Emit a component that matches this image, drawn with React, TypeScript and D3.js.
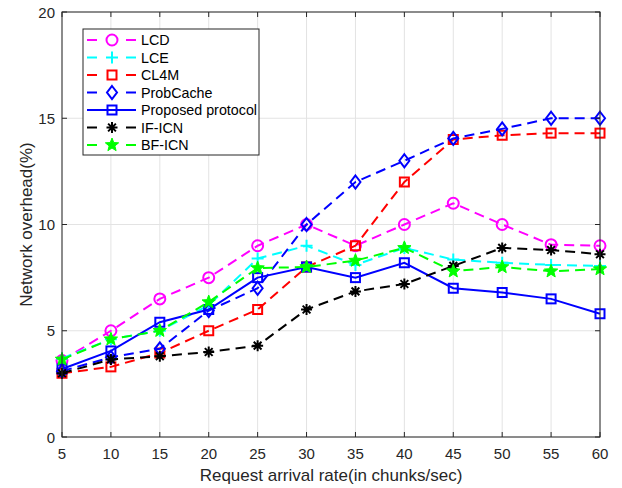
import { scaleLinear, line } from "d3";

const width = 622;
const height = 488;
const margin = { left: 62, right: 22, top: 12, bottom: 51 };

const rates = [5, 10, 15, 20, 25, 30, 35, 40, 45, 50, 55, 60];
const yTicks = [0, 5, 10, 15, 20];

const lcd = [3.6, 5.0, 6.5, 7.5, 9.0, 10.0, 9.0, 10.0, 11.0, 10.0, 9.05, 9.0];
const lce = [3.7, 4.6, 5.0, 6.2, 8.4, 9.0, 8.1, 8.9, 8.35, 8.2, 8.1, 8.05];
const cl4m = [3.0, 3.3, 3.95, 5.0, 6.0, 8.0, 9.0, 12.0, 14.0, 14.2, 14.3, 14.3];
const probCache = [3.1, 3.75, 4.15, 5.95, 7.0, 10.0, 12.0, 13.0, 14.05, 14.5, 15.0, 15.0];
const proposed = [3.2, 4.05, 5.4, 6.0, 7.5, 8.0, 7.5, 8.2, 7.0, 6.8, 6.5, 5.8];
const ifIcn = [3.0, 3.65, 3.8, 4.0, 4.3, 6.0, 6.85, 7.2, 8.05, 8.9, 8.8, 8.6];
const bfIcn = [3.65, 4.6, 5.0, 6.35, 7.95, 8.0, 8.3, 8.9, 7.8, 8.0, 7.8, 7.9];

const seriesNames = ["LCD", "LCE", "CL4M", "ProbCache", "Proposed protocol", "IF-ICN", "BF-ICN"];
const seriesValues = [lcd, lce, cl4m, probCache, proposed, ifIcn, bfIcn];
const seriesColors = ["#ff00ff", "#00ffff", "#ff0000", "#0000ff", "#0000ff", "#000000", "#00ff00"];
const seriesMarkers = ["circle", "plus", "square", "diamond", "square", "asterisk", "star"];
const seriesDashed = [true, true, true, true, false, true, true];

const font = "'Liberation Sans', Arial, sans-serif";
const axisColor = "#262626";

function Marker({ type, x, y, color }: { type: string; x: number; y: number; color: string }) {
  const sw = 2;
  if (type === "circle")
    return <circle cx={x} cy={y} r={5.5} fill="none" stroke={color} strokeWidth={sw} />;
  if (type === "square")
    return <rect x={x - 4.5} y={y - 4.5} width={9} height={9} fill="none" stroke={color} strokeWidth={sw} />;
  if (type === "diamond")
    return (
      <path d={`M${x},${y - 6.5}L${x + 5},${y}L${x},${y + 6.5}L${x - 5},${y}Z`} fill="none" stroke={color} strokeWidth={sw} />
    );
  if (type === "plus")
    return <path d={`M${x - 6},${y}H${x + 6}M${x},${y - 6}V${y + 6}`} stroke={color} strokeWidth={sw} />;
  if (type === "asterisk") {
    const r = 5.5;
    const d = [0, 45, 90, 135]
      .map((a) => {
        const t = (a * Math.PI) / 180;
        return `M${x - r * Math.cos(t)},${y - r * Math.sin(t)}L${x + r * Math.cos(t)},${y + r * Math.sin(t)}`;
      })
      .join("");
    return <path d={d} stroke={color} strokeWidth={sw} />;
  }
  // star (pentagram)
  const pts: string[] = [];
  for (let i = 0; i < 10; i++) {
    const r = i % 2 === 0 ? 7 : 3;
    const t = (-90 + i * 36) * (Math.PI / 180);
    pts.push(`${x + r * Math.cos(t)},${y + r * Math.sin(t)}`);
  }
  return <polygon points={pts.join(" ")} fill={color} stroke={color} strokeWidth={1} />;
}

export default function App() {
  const x = scaleLinear()
    .domain([5, 60])
    .range([margin.left, width - margin.right]);
  const y = scaleLinear()
    .domain([0, 20])
    .range([height - margin.bottom, margin.top]);

  const x0 = margin.left;
  const x1 = width - margin.right;
  const y0 = height - margin.bottom;
  const y1 = margin.top;

  const lineGen = line<number>()
    .x((_, i) => x(rates[i]))
    .y((d) => y(d));

  const legX = 83;
  const legY = 29;
  const legW = 176;
  const legH = 126;
  const legRow = 17.5;

  return (
    <svg width={width} height={height} style={{ position: "absolute", left: 0, top: 0, background: "#fff" }}>
      <rect x={0} y={0} width={width} height={height} fill="#fff" />
      {/* grid */}
      {rates.map((r) => (
        <line key={"gx" + r} x1={x(r)} x2={x(r)} y1={y0} y2={y1} stroke="#e3e3e3" strokeWidth={1} />
      ))}
      {yTicks.map((t) => (
        <line key={"gy" + t} x1={x0} x2={x1} y1={y(t)} y2={y(t)} stroke="#e3e3e3" strokeWidth={1} />
      ))}

      {/* series */}
      {seriesValues.map((vals, si) => (
        <g key={seriesNames[si]}>
          <path
            d={lineGen(vals) || ""}
            fill="none"
            stroke={seriesColors[si]}
            strokeWidth={2}
            strokeDasharray={seriesDashed[si] ? "10 6" : undefined}
          />
          {vals.map((v, i) => (
            <Marker key={i} type={seriesMarkers[si]} x={x(rates[i])} y={y(v)} color={seriesColors[si]} />
          ))}
        </g>
      ))}

      {/* axes box */}
      <rect x={x0} y={y1} width={x1 - x0} height={y0 - y1} fill="none" stroke={axisColor} strokeWidth={1} />
      {rates.map((r) => (
        <g key={"tx" + r}>
          <line x1={x(r)} x2={x(r)} y1={y0} y2={y0 - 5} stroke={axisColor} />
          <line x1={x(r)} x2={x(r)} y1={y1} y2={y1 + 5} stroke={axisColor} />
          <text x={x(r)} y={y0 + 22} textAnchor="middle" fontFamily={font} fontSize={15} fill={axisColor}>
            {r}
          </text>
        </g>
      ))}
      {yTicks.map((t) => (
        <g key={"ty" + t}>
          <line x1={x0} x2={x0 + 5} y1={y(t)} y2={y(t)} stroke={axisColor} />
          <line x1={x1} x2={x1 - 5} y1={y(t)} y2={y(t)} stroke={axisColor} />
          <text x={x0 - 7} y={y(t) + 5.5} textAnchor="end" fontFamily={font} fontSize={15} fill={axisColor}>
            {t}
          </text>
        </g>
      ))}
      <text x={(x0 + x1) / 2} y={y0 + 44} textAnchor="middle" fontFamily={font} fontSize={17} fill={axisColor}>
        Request arrival rate(in chunks/sec)
      </text>
      <text
        transform={`translate(32,${(y0 + y1) / 2}) rotate(-90)`}
        textAnchor="middle"
        fontFamily={font}
        fontSize={17}
        fill={axisColor}
      >
        Network overhead(%)
      </text>

      {/* legend */}
      <rect x={legX} y={legY} width={legW} height={legH} fill="#fff" stroke={axisColor} strokeWidth={1} />
      {seriesNames.map((name, i) => {
        const cy = legY + 11 + i * legRow;
        return (
          <g key={"leg" + name}>
            <line
              x1={legX + 4}
              x2={legX + 53}
              y1={cy}
              y2={cy}
              stroke={seriesColors[i]}
              strokeWidth={2}
              strokeDasharray={seriesDashed[i] ? "10 29 10" : undefined}
            />
            <Marker type={seriesMarkers[i]} x={legX + 29} y={cy} color={seriesColors[i]} />
            <text x={legX + 58} y={cy + 5} fontFamily={font} fontSize={14.3} fill="#000">
              {name}
            </text>
          </g>
        );
      })}
    </svg>
  );
}
